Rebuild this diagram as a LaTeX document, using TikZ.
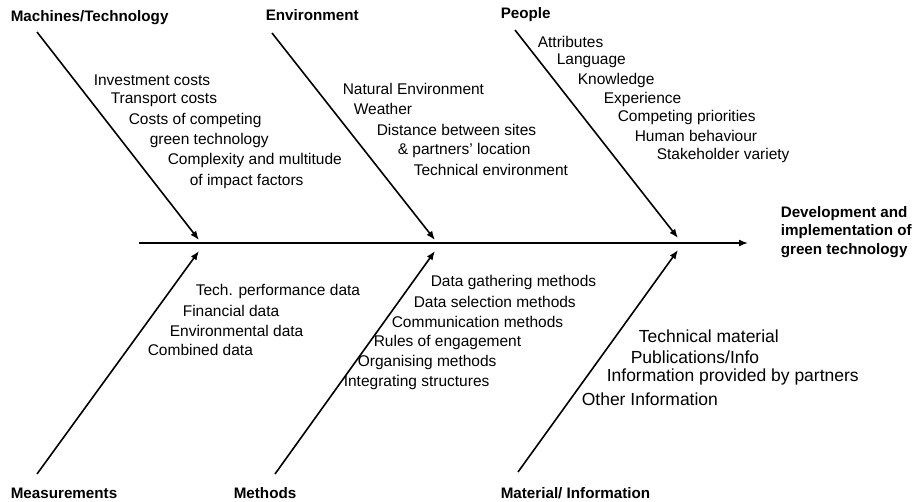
\documentclass[tikz,border=0pt]{standalone}
\usepackage{fontspec}
\setmainfont{Liberation Sans}
\usetikzlibrary{arrows.meta,
                positioning}

\begin{document}
\begin{tikzpicture}[
			x=1pt, y=-1pt,
			line width=1.6pt,
			bone/.style = {-{Latex[length=9pt,width=7pt]}},
			cause/.style = {anchor=west, inner sep=0pt, font=\fontsize{15.2}{18.5}\selectfont\bfseries},
			item/.style = {anchor=west, inner sep=0pt, font=\fontsize{15.5}{19}\selectfont},
			bigitem/.style = {item, font=\fontsize{17.5}{21}\selectfont},
			]
			\useasboundingbox (0,0) rectangle (921,501);
			% causes
			\node[cause] (mach) at (10,18) {Machines/Technology};
			\node[cause] (env) at (265,15) {Environment};
			\node[cause] (peop) at (500,15) {People};
			\node[cause] (meas) at (10,493) {Measurements};
			\node[cause] (meth) at (233,493) {Methods};
			\node[cause] (mat) at (500,493) {Material/ Information};
			\node[cause, align=left] (effect) at (780,232) {Development and\\implementation of\\green technology};
			% bones
			\coordinate (spine-s) at (139,243);
			\coordinate (spine-e) at (748,243);
			\coordinate (mach-t) at (37,32);
			\coordinate (mach-h) at (199,240);
			\coordinate (env-t) at (272,33);
			\coordinate (env-h) at (435,240);
			\coordinate (peop-t) at (515,30);
			\coordinate (peop-h) at (678,238);
			\coordinate (meas-t) at (37,474);
			\coordinate (meas-h) at (199,251);
			\coordinate (meth-t) at (275,474);
			\coordinate (meth-h) at (435,251);
			\coordinate (mat-t) at (518,472);
			\coordinate (mat-h) at (678,250);
			\draw[bone] (spine-s) -- (spine-e);
			\draw[bone] (mach-t) -- (mach-h);
			\draw[bone] (env-t) -- (env-h);
			\draw[bone] (peop-t) -- (peop-h);
			\draw[bone] (meas-t) -- (meas-h);
			\draw[bone] (meth-t) -- (meth-h);
			\draw[bone] (mat-t) -- (mat-h);
			% machines/technology
			\node[item] (mach1) at (93,80) {Investment costs};
			\node[item] (mach2) at (110,100) {Transport costs};
			\node[item] (mach3) at (128,120) {Costs of competing};
			\node[item] (mach4) at (149,140) {green technology};
			\node[item] (mach5) at (167,160) {Complexity and multitude};
			\node[item] (mach6) at (189,181) {of impact factors};
			% environment
			\node[item] (env1) at (342,89) {Natural Environment};
			\node[item] (env2) at (353,109) {Weather};
			\node[item] (env3) at (376,130) {Distance between sites};
			\node[item] (env4) at (397,150) {\& partners{\char"0027} location};
			\node[item] (env5) at (413,170) {Technical environment};
			% people
			\node[item] (peop1) at (537,42) {Attributes};
			\node[item] (peop2) at (556,61) {Language};
			\node[item] (peop3) at (577,80) {Knowledge};
			\node[item] (peop4) at (603,99) {Experience};
			\node[item] (peop5) at (617,117) {Competing priorities};
			\node[item] (peop6) at (634,136) {Human behaviour};
			\node[item] (peop7) at (656,155) {Stakeholder variety};
			% measurements
			\node[item] (meas1) at (195,291) {Tech. performance data};
			\node[item] (meas2) at (182,311) {Financial data};
			\node[item] (meas3) at (169,331) {Environmental data};
			\node[item] (meas4) at (147,350) {Combined data};
			% methods
			\node[item] (meth1) at (430,282) {Data gathering methods};
			\node[item] (meth2) at (413,302) {Data selection methods};
			\node[item] (meth3) at (391,322) {Communication methods};
			\node[item] (meth4) at (373,342) {Rules of engagement};
			\node[item] (meth5) at (357,362) {Organising methods};
			\node[item] (meth6) at (343,382) {Integrating structures};
			% material/information
			\node[bigitem] (mat1) at (638,336) {Technical material};
			\node[bigitem] (mat2) at (630,357) {Publications/Info};
			\node[bigitem] (mat3) at (606,377) {Information provided by partners};
			\node[bigitem] (mat4) at (581,399) {Other Information};
\end{tikzpicture}
\end{document}
